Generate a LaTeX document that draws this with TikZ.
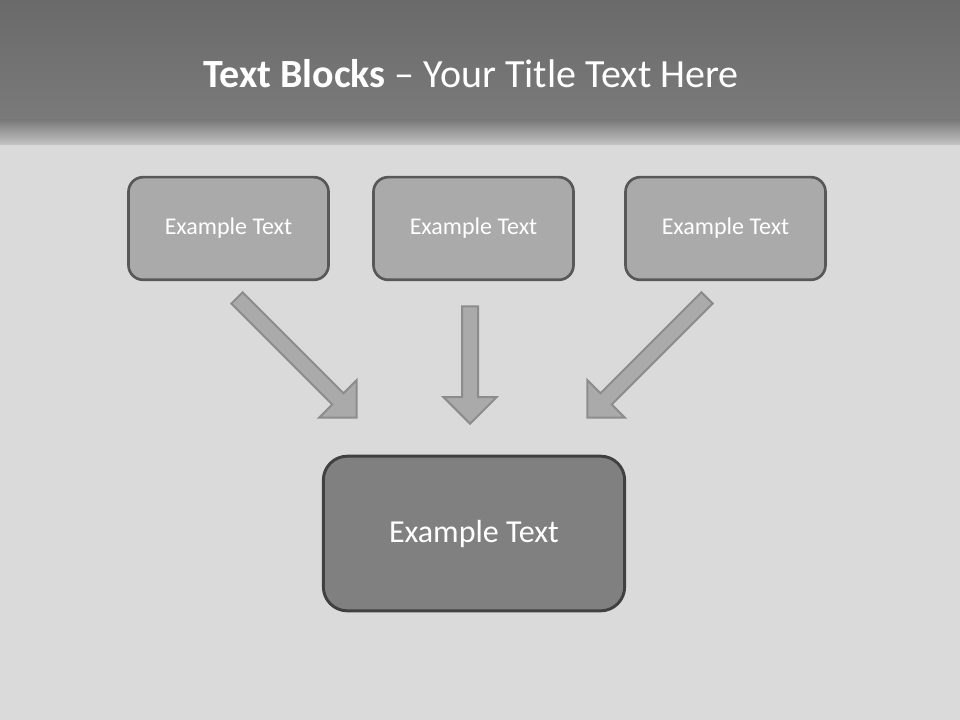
\documentclass[tikz,border=0pt]{standalone}
\usepackage{fontspec}
\setmainfont{Carlito}
\usetikzlibrary{shapes.arrows}

\definecolor{wallgray}{RGB}{218,218,218}
\definecolor{headtop}{RGB}{106,106,106}
\definecolor{headmid}{RGB}{122,122,122}
\definecolor{headlow}{RGB}{196,196,196}
\definecolor{blockfill}{RGB}{170,170,170}
\definecolor{blockline}{RGB}{88,88,88}
\definecolor{mainfill}{RGB}{128,128,128}
\definecolor{mainline}{RGB}{64,64,64}
\definecolor{arrowline}{RGB}{140,140,140}

\begin{document}
\begin{tikzpicture}[x=0.75pt, y=-0.75pt,
    inblock/.style={rectangle, draw=blockline, line width=2pt, fill=blockfill, rounded corners=11pt,
        minimum width=150pt, minimum height=77pt, text=white, font=\fontsize{18}{22}\selectfont},
    outblock/.style={rectangle, draw=mainline, line width=2.2pt, fill=mainfill, rounded corners=18pt,
        minimum width=226pt, minimum height=116pt, text=white, font=\fontsize{24}{29}\selectfont},
    blockarrow/.style={single arrow, draw=arrowline, line width=1.5pt, fill=blockfill,
        inner xsep=0pt, inner ysep=5.25pt, single arrow head extend=14pt}]

        % Background
        \fill[wallgray] (0,0) rectangle (960,720);
        \shade[top color=headtop, bottom color=headmid] (0,0) rectangle (960,120);
        \shade[top color=headmid, bottom color=headlow] (0,120) rectangle (960,145);
        \node[anchor=base, text=white, font=\fontsize{30}{36}\selectfont](title) at (471,88){\textbf{Text Blocks} -- Your Title Text Here};

        % Vertices
        \node[inblock](left) at (228.5,228.5){Example Text};
        \node[inblock](middle) at (473.5,228.5){Example Text};
        \node[inblock](right) at (725.5,228.5){Example Text};
        \node[outblock](result) at (474,533.5){Example Text};

        % Edges
        \node[blockarrow, minimum height=127pt, rotate=-45](leftArrow) at (294,355){};
        \node[blockarrow, minimum height=88pt, rotate=-90](middleArrow) at (470,361){};
        \node[blockarrow, minimum height=127pt, rotate=-135](rightArrow) at (650,355){};

    \end{tikzpicture}
\end{document}
